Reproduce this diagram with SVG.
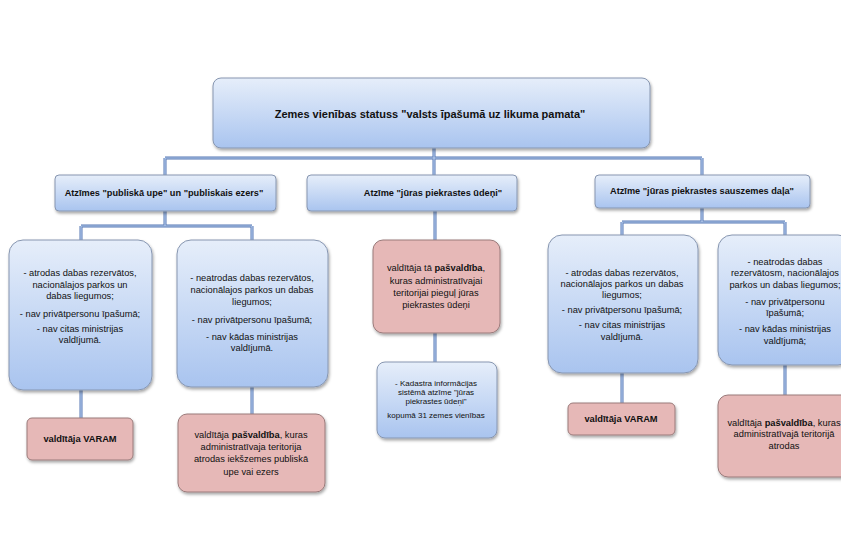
<svg xmlns="http://www.w3.org/2000/svg" width="841" height="557" viewBox="0 0 841 557">
<defs>
<linearGradient id="gb" x1="0" y1="0" x2="0" y2="1">
<stop offset="0" stop-color="#e6eefa"/>
<stop offset="1" stop-color="#a9c4ef"/>
</linearGradient>
<filter id="sh" x="-10%" y="-10%" width="125%" height="130%">
<feDropShadow dx="1" dy="2" stdDeviation="1.5" flood-color="#000" flood-opacity="0.35"/>
</filter>
<g id="cn">
<path d="M434 148V175M165 158H702M165 158V175M702 158V175"/>
<path d="M165 211V226M81 226H252M81 226V240M252 226V240"/>
<path d="M435 211V240M435 333V362"/>
<path d="M702 208V222M622 222H785M622 222V235M785 222V235"/>
<path d="M81 390V418M252 387V414M622 373V403M785 365V395"/>
</g>
</defs>
<style>
.b{fill:url(#gb);stroke:#8796b0;stroke-width:1;filter:url(#sh)}
.p{fill:#e6b8b7;stroke:#9a7a7a;stroke-width:1;filter:url(#sh)}
text{font-family:"Liberation Sans",Arial,sans-serif;fill:#111;text-anchor:middle}
.t0{font-size:11px;font-weight:bold}
.t1{font-size:9.2px;font-weight:bold}
.t2{font-size:9.3px}
.t3{font-size:8px}
.bd{font-weight:bold}
</style>
<rect width="841" height="557" fill="#fff"/>
<g id="connectors" fill="none">
<use href="#cn" stroke="#5577b3" stroke-width="3"/>
<use href="#cn" stroke="#b8cdee" stroke-width="1.2"/>
</g>
<g id="top">
<rect class="b" x="213" y="78" width="437" height="70" rx="8"/>
<text class="t0" x="430" y="118">Zemes vienības statuss "valsts īpašumā uz likuma pamata"</text>
</g>
<g id="n-upe">
<rect class="b" x="55" y="175" width="221" height="36" rx="4"/>
<text class="t1" x="164" y="196">Atzīmes "publiskā upe" un "publiskais ezers"</text>
</g>
<g id="n-udeni">
<rect class="b" x="307" y="175" width="210" height="36" rx="4"/>
<text class="t1" x="433" y="196">Atzīme "jūras piekrastes ūdeņi"</text>
</g>
<g id="n-sauszeme">
<rect class="b" x="595" y="175" width="215" height="33" rx="4"/>
<text class="t1" x="702" y="194">Atzīme "jūras piekrastes sauszemes daļa"</text>
</g>
<g id="n-d">
<rect class="b" x="9" y="240" width="143" height="150" rx="14"/>
<text class="t2" x="80"><tspan x="80" y="276">- atrodas dabas rezervātos,</tspan><tspan x="80" y="288">nacionālajos parkos un</tspan><tspan x="80" y="299">dabas liegumos;</tspan><tspan x="80" y="317">- nav privātpersonu īpašumā;</tspan><tspan x="80" y="332">- nav citas ministrijas</tspan><tspan x="80" y="343">valdījumā.</tspan></text>
</g>
<g id="n-e">
<rect class="b" x="177" y="240" width="151" height="147" rx="14"/>
<text class="t2" x="252"><tspan x="252" y="281">- neatrodas dabas rezervātos,</tspan><tspan x="252" y="293">nacionālajos parkos un dabas</tspan><tspan x="252" y="305">liegumos;</tspan><tspan x="252" y="323">- nav privātpersonu īpašumā;</tspan><tspan x="252" y="340">- nav kādas ministrijas</tspan><tspan x="252" y="351">valdījumā.</tspan></text>
</g>
<g id="n-f">
<rect class="p" x="373" y="240" width="127" height="93" rx="10"/>
<text class="t2" x="436"><tspan x="436" y="271">valdītāja tā <tspan class="bd">pašvaldība</tspan>,</tspan><tspan x="436" y="284">kuras administratīvajai</tspan><tspan x="436" y="296">teritorijai  pieguļ jūras</tspan><tspan x="436" y="308">piekrastes ūdeņi</tspan></text>
</g>
<g id="n-g">
<rect class="b" x="377" y="362" width="120" height="76" rx="8"/>
<text class="t3" x="436"><tspan x="436" y="386">- Kadastra informācijas</tspan><tspan x="436" y="395">sistēmā atzīme "jūras</tspan><tspan x="436" y="404">piekrastes ūdeņi"</tspan><tspan x="436" y="418">kopumā 31 zemes vienības</tspan></text>
</g>
<g id="n-h">
<rect class="b" x="548" y="235" width="150" height="138" rx="14"/>
<text class="t2" x="622"><tspan x="622" y="276">- atrodas dabas rezervātos,</tspan><tspan x="622" y="287">nacionālajos parkos un dabas</tspan><tspan x="622" y="298">liegumos;</tspan><tspan x="622" y="313">- nav privātpersonu īpašumā;</tspan><tspan x="622" y="328">- nav citas ministrijas</tspan><tspan x="622" y="340">valdījumā.</tspan></text>
</g>
<g id="n-i">
<rect class="b" x="718" y="235" width="134" height="130" rx="14"/>
<text class="t2" x="785"><tspan x="785" y="265">- neatrodas dabas</tspan><tspan x="785" y="276">rezervātosm, nacionālajos</tspan><tspan x="785" y="288">parkos un dabas liegumos;</tspan><tspan x="785" y="305">- nav privātpersonu</tspan><tspan x="785" y="316">īpašumā;</tspan><tspan x="785" y="332">- nav kādas ministrijas</tspan><tspan x="785" y="344">valdījumā;</tspan></text>
</g>
<g id="n-j">
<rect class="p" x="27" y="418" width="106" height="42" rx="5"/>
<text class="t2 bd" x="80" y="442">valdītāja VARAM</text>
</g>
<g id="n-k">
<rect class="p" x="178" y="414" width="147" height="78" rx="9"/>
<text class="t2" x="251"><tspan x="251" y="438">valdītāja <tspan class="bd">pašvaldība</tspan>, kuras</tspan><tspan x="251" y="450">administratīvaja teritorija</tspan><tspan x="251" y="462">atrodas iekšzemes publiskā</tspan><tspan x="251" y="475">upe vai ezers</tspan></text>
</g>
<g id="n-l">
<rect class="p" x="568" y="403" width="107" height="32" rx="5"/>
<text class="t2 bd" x="621" y="422">valdītāja VARAM</text>
</g>
<g id="n-m">
<rect class="p" x="718" y="395" width="134" height="82" rx="10"/>
<text class="t2" x="784"><tspan x="784" y="426">valdītāja <tspan class="bd">pašvaldība</tspan>, kuras</tspan><tspan x="784" y="437">administratīvajā teritorijā</tspan><tspan x="784" y="449">atrodas</tspan></text>
</g>
</svg>
